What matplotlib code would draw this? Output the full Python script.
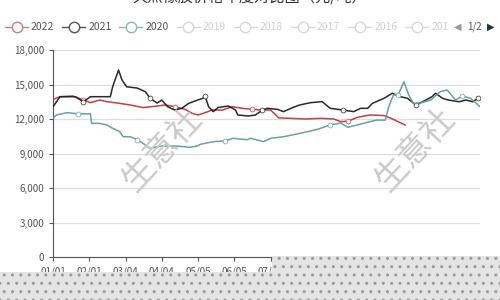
import numpy as np
import matplotlib.pyplot as plt
from matplotlib.lines import Line2D
from matplotlib.patches import Rectangle

plt.rcParams['font.family'] = ['Noto Sans CJK SC', 'DejaVu Sans']

TITLE = "天然橡胶价格年度对比图（元/吨）"
YEARS = ["2022", "2021", "2020", "2019", "2018", "2017", "2016", "201"]
XTICK_DAYS = [0, 31, 62, 93, 124, 155, 186, 217, 248, 279, 310, 341]
XTICK_LABELS = ["01/01", "02/01", "03/04", "04/04", "05/05", "06/05",
                "07/06", "08/06", "09/06", "10/07", "11/07", "12/08"]
YTICKS = [0, 3000, 6000, 9000, 12000, 15000, 18000]

# 2021
days_2021 = [0, 6, 19, 26, 32, 49, 51, 56, 59, 63, 72, 79, 83, 89, 93, 98, 104,
             110, 116, 122, 128, 130, 133, 137, 141, 150, 156, 158, 167, 173,
             179, 183, 192, 197, 205, 211, 220, 230, 237, 248, 257, 263, 269,
             273, 283, 290, 297, 303, 310, 316, 324, 327, 333, 338, 347, 353,
             359, 363, 365]
vals_2021 = [13070, 13940, 13940, 13500, 13940, 13940, 14810, 16260, 15390,
             14800, 14690, 14370, 13800, 13390, 13650, 13070, 12780, 12930,
             13360, 13590, 13800, 14000, 13070, 12640, 13000, 13130, 12780,
             12350, 12260, 12350, 12780, 12930, 12840, 12640, 13000, 13220,
             13420, 13510, 12930, 12780, 12640, 12930, 12930, 13360, 13800,
             14240, 13940, 13800, 13220, 13500, 13940, 14240, 13800, 13650,
             13500, 13650, 13500, 13800, 13650]

# 2022
days_2022 = [0, 6, 17, 26, 32, 40, 46, 55, 66, 77, 89, 96, 104, 113, 119, 124,
             130, 136, 145, 153, 162, 170, 179, 186, 193, 203, 216, 229, 240,
             246, 252, 260, 271, 283, 289, 295, 301]
vals_2022 = [13710, 13940, 14000, 13650, 13420, 13650, 13510, 13390, 13220,
             12990, 13130, 13220, 13070, 12840, 12490, 12350, 12550, 12780,
             12780, 13070, 12930, 12840, 12780, 12780, 12100, 12060, 12000,
             12060, 12000, 11770, 11800, 12140, 12350, 12300, 12060, 11770,
             11480]

# 2020
days_2020 = [0, 3, 12, 21, 32, 33, 40, 46, 51, 57, 60, 66, 72, 77, 83, 92, 106,
             117, 123, 126, 137, 147, 154, 166, 169, 180, 186, 197, 211, 226,
             237, 246, 252, 260, 271, 277, 284, 287, 291, 295, 300, 304, 308,
             314, 323, 331, 337, 344, 350, 357, 365]
vals_2020 = [12060, 12350, 12550, 12450, 12450, 11620, 11620, 11480, 11190,
             10900, 10460, 10460, 10200, 9880, 9450, 9650, 9650, 9540, 9650,
             9800, 10030, 10100, 10320, 10200, 10320, 10030, 10320, 10460,
             10750, 11100, 11480, 11650, 11280, 11480, 11770, 11910, 11900,
             13070, 14090, 14100, 15240, 14090, 13360, 13400, 13650, 14380,
             14520, 13650, 14000, 13800, 13070]

COLORS = ["#c0363a", "#1e1e1e", "#5f9ea0"]
LEG_COLORS = ["#c98088", "#555555", "#8fb7b7"]
OFF = "#d8d8d8"

fig = plt.figure(figsize=(5, 3), dpi=100)
ax = fig.add_axes([0.106, 0.1433, 0.854, 0.69])

series = [(days_2022, vals_2022), (days_2021, vals_2021), (days_2020, vals_2020)]
for (d, v), c in zip(series, COLORS):
    ax.plot(d, v, color=c, lw=1.1, marker='o', ms=3.5, mfc='white',
            mec=c, mew=0.5, markevery=slice(3, None, 9), alpha=0.95, zorder=3)

ax.set_xlim(0, 365)
ax.set_ylim(0, 18000)
ax.set_yticks(YTICKS)
ax.set_yticklabels([f"{t:,}" for t in YTICKS])
ax.set_xticks(XTICK_DAYS)
ax.set_xticklabels(XTICK_LABELS)
ax.tick_params(axis='both', labelsize=7, colors='#555555', length=3, width=0.8)
ax.yaxis.grid(True, color='#dddddd', lw=0.9)
ax.set_axisbelow(True)
for s in ['top', 'right']:
    ax.spines[s].set_visible(False)
for s in ['left', 'bottom']:
    ax.spines[s].set_color('#555555')

# watermark
for cx in [162, 415]:
    fig.text(cx / 500, 1 - 150 / 300, "生意社", fontsize=24, rotation=47,
             color='#cacaca', ha='center', va='center', zorder=1)

# title (cut at the top, as in the source)
fig.text(0.5, 1 + 3 / 300, TITLE, fontsize=11, ha='center', va='center',
         color='#333333')

# legend drawn by hand
y_leg = 1 - 27 / 300
for i, yr in enumerate(YEARS):
    x0 = 5 + i * 57.2
    c = LEG_COLORS[i] if i < 3 else OFF
    fig.add_artist(Line2D([x0 / 500, (x0 + 23) / 500], [y_leg, y_leg],
                          color=c, lw=1))
    fig.add_artist(Line2D([(x0 + 11.5) / 500], [y_leg], marker='o', ms=7.5,
                          mfc='white', mec=c, mew=1))
    fig.text((x0 + 26) / 500, y_leg, yr, fontsize=7.5, va='center',
             color='#555555' if i < 3 else '#d0d0d0')
fig.text(458 / 500, y_leg, "◀", fontsize=7, ha='center', va='center',
         color='#999999', family='DejaVu Sans')
fig.text(474 / 500, y_leg, "1/2", fontsize=7, ha='center', va='center',
         color='#555555')
fig.text(491 / 500, y_leg, "▶", fontsize=7, ha='center', va='center',
         color='#1a3a4a', family='DejaVu Sans')

# dotted overlay at the bottom
for (x, y, w, h) in [(272, 256, 228, 16), (0, 272, 500, 28)]:
    fig.add_artist(Rectangle((x / 500, 1 - (y + h) / 300), w / 500, h / 300,
                             transform=fig.transFigure, facecolor='#e4e4e4',
                             edgecolor='#9a9a9a', hatch='..', lw=0, zorder=10))

fig.savefig("out.png", dpi=100)
